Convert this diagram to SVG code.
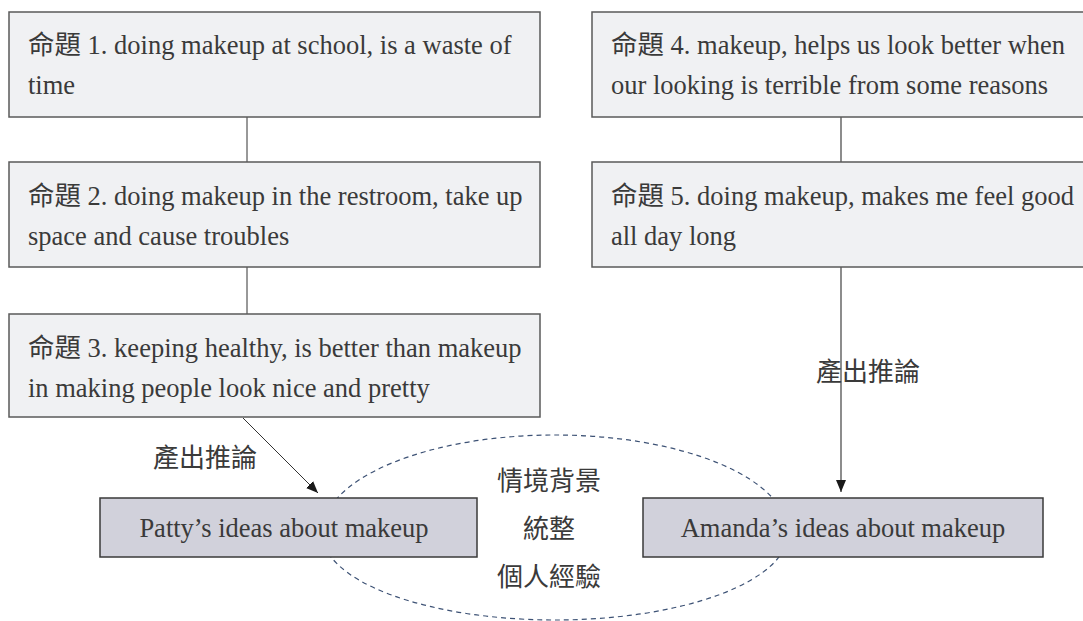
<svg xmlns="http://www.w3.org/2000/svg" width="1083" height="621" viewBox="0 0 1083 621">
<defs>
<marker id="ah" viewBox="0 0 12 10" refX="12" refY="5" markerWidth="12" markerHeight="11" markerUnits="userSpaceOnUse" orient="auto">
<path d="M0,0 L12,5 L0,10 Z" fill="#1a1a1a"/>
</marker>
<style>
.prop rect{fill:#f0f1f3;stroke:#5a5a5a;stroke-width:1.5}
.idea rect{fill:#d1d1db;stroke:#3a3a3a;stroke-width:1.5}
.t{font-family:"Liberation Serif","Noto Sans CJK TC",serif;font-size:26.5px;fill:#3a3a3a}
.c{font-family:"Noto Sans CJK TC",sans-serif;font-size:26px;fill:#3a3a3a}
.mid{text-anchor:middle}
</style>
</defs>
<rect width="1083" height="621" fill="#ffffff"/>
<g id="connectors">
<line x1="247" y1="117" x2="247" y2="162" stroke="#333" stroke-width="1"/>
<line x1="247" y1="267" x2="247" y2="314" stroke="#333" stroke-width="1"/>
<line x1="841" y1="117" x2="841" y2="162" stroke="#808080" stroke-width="1.8"/>
<line x1="841" y1="267" x2="841" y2="492" stroke="#808080" stroke-width="1.8" marker-end="url(#ah)"/>
<line x1="243" y1="418" x2="318" y2="493" stroke="#333" stroke-width="1" marker-end="url(#ah)"/>
<text class="c mid" x="205" y="467">產出推論</text>
<text class="c mid" x="868" y="381">產出推論</text>
</g>
<g id="context">
<path d="M322,533 A233,98 0 0 1 788,533 A233,87 0 0 1 322,533 Z" fill="none" stroke="#3d5275" stroke-width="1.2" stroke-dasharray="5,4"/>
<text class="c mid" x="549" y="490">情境背景</text>
<text class="c mid" x="549" y="538">統整</text>
<text class="c mid" x="549" y="586">個人經驗</text>
</g>
<g id="p1" class="prop">
<rect x="9" y="12" width="531" height="105"/>
<text class="t" x="28" y="54">命題 1. doing makeup at school, is a waste of</text>
<text class="t" x="28" y="94">time</text>
</g>
<g id="p2" class="prop">
<rect x="9" y="162" width="531" height="105"/>
<text class="t" x="28" y="205">命題 2. doing makeup in the restroom, take up</text>
<text class="t" x="28" y="245">space and cause troubles</text>
</g>
<g id="p3" class="prop">
<rect x="9" y="314" width="531" height="103"/>
<text class="t" x="28" y="357">命題 3. keeping healthy, is better than makeup</text>
<text class="t" x="28" y="397">in making people look nice and pretty</text>
</g>
<g id="p4" class="prop">
<rect x="592" y="12" width="500" height="105"/>
<text class="t" x="611" y="54">命題 4. makeup, helps us look better when</text>
<text class="t" x="611" y="94">our looking is terrible from some reasons</text>
</g>
<g id="p5" class="prop">
<rect x="592" y="162" width="500" height="105"/>
<text class="t" x="611" y="205">命題 5. doing makeup, makes me feel good</text>
<text class="t" x="611" y="245">all day long</text>
</g>
<g id="patty" class="idea">
<rect x="100" y="498" width="377" height="59"/>
<text class="t mid" x="284" y="537">Patty’s ideas about makeup</text>
</g>
<g id="amanda" class="idea">
<rect x="643" y="498" width="400" height="59"/>
<text class="t mid" x="843" y="537">Amanda’s ideas about makeup</text>
</g>
</svg>
